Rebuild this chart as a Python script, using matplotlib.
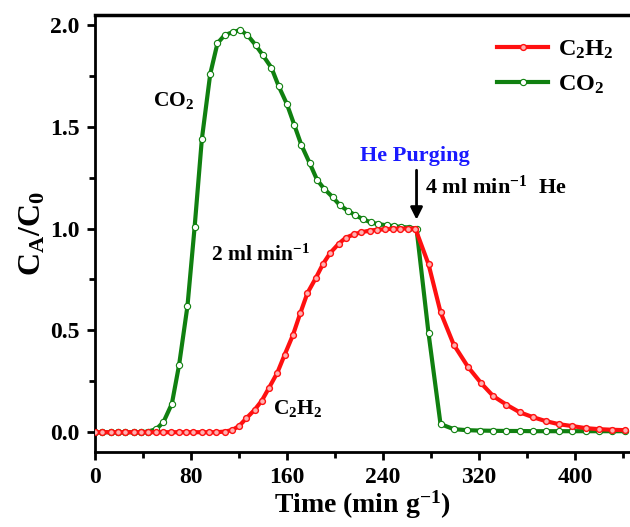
import matplotlib
matplotlib.use('Agg')
import matplotlib.pyplot as plt
from matplotlib.ticker import MultipleLocator

plt.rcParams['font.family'] = 'Liberation Serif'
plt.rcParams['font.weight'] = 'bold'
plt.rcParams['mathtext.fontset'] = 'custom'
plt.rcParams['mathtext.rm'] = 'Liberation Serif:bold'
plt.rcParams['mathtext.bf'] = 'Liberation Serif:bold'
plt.rcParams['mathtext.it'] = 'Liberation Serif:bold:italic'

# C2H2 breakthrough / desorption curve
c2h2_t = [0, 6, 13, 19, 25, 32, 38, 44, 51, 57, 63, 70, 76, 82, 89, 95, 101, 108,
          114, 120, 126, 133, 139, 145, 152, 158, 165, 171, 177, 184, 190, 196,
          203, 209, 216, 222, 229, 235, 242, 248, 254, 261, 267,
          278, 288, 299, 311, 322, 332, 343, 354, 365, 376, 387, 398, 409, 420, 431, 442]
c2h2_c = [0, 0, 0, 0, 0, 0, 0, 0, 0, 0, 0, 0, 0, 0, 0, 0, 0, 0.003,
          0.01, 0.03, 0.068, 0.11, 0.155, 0.218, 0.293, 0.38, 0.478, 0.583, 0.683, 0.757, 0.826, 0.88,
          0.925, 0.955, 0.972, 0.982, 0.99, 0.994, 0.997, 0.999, 1.0, 1.0, 1.0,
          0.825, 0.59, 0.43, 0.32, 0.24, 0.177, 0.135, 0.098, 0.074, 0.054, 0.039, 0.03, 0.02, 0.015, 0.012, 0.01]

# CO2 breakthrough / desorption curve
co2_t = [0, 6, 13, 19, 25, 32, 38, 44, 51, 57, 64, 70, 77, 83, 89, 96, 102, 108,
         115, 121, 127, 134, 140, 147, 153, 160, 166, 172, 179, 185, 191, 198,
         204, 211, 217, 223, 230, 236, 243, 249, 255, 262, 268,
         278, 288, 299, 310, 321, 332, 343, 354, 365, 376, 387, 398, 409, 420, 431, 442]
co2_c = [0, 0, 0, 0, 0, 0, 0, 0.003, 0.015, 0.05, 0.14, 0.33, 0.62, 1.01, 1.44, 1.76, 1.91, 1.95,
         1.965, 1.975, 1.95, 1.90, 1.85, 1.79, 1.70, 1.61, 1.51, 1.41, 1.32, 1.24, 1.195, 1.155,
         1.115, 1.086, 1.066, 1.047, 1.03, 1.022, 1.016, 1.012, 1.008, 1.005, 1.0,
         0.486, 0.04, 0.015, 0.01, 0.008, 0.007, 0.006, 0.006, 0.005, 0.005, 0.005, 0.005, 0.005, 0.005, 0.005, 0.005]

fig = plt.figure(figsize=(6.3, 5.27), dpi=100)
ax = fig.add_axes([0.151, 0.142, 0.849, 0.830])

ax.plot(co2_t, co2_c, color='#108010', lw=3, marker='o', ms=4.5,
        mfc='white', mec='#108010', mew=0.8, label=r'$\mathrm{CO_2}$', zorder=2)
ax.plot(c2h2_t, c2h2_c, color='#ff1010', lw=3, marker='o', ms=4.2,
        mfc='#ffb0b0', mec='#ff1010', mew=1.0, label=r'$\mathrm{C_2H_2}$', zorder=3)

ax.set_xlim(0, 446)
ax.set_ylim(-0.098, 2.05)
ax.xaxis.set_major_locator(MultipleLocator(80))
ax.xaxis.set_minor_locator(MultipleLocator(40))
ax.yaxis.set_minor_locator(MultipleLocator(0.25))
ax.set_yticks([0.0, 0.5, 1.0, 1.5, 2.0])
ax.set_yticklabels(['0.0', '0.5', '1.0', '1.5', '2.0'])

ax.spines['right'].set_visible(False)
for s in ['left', 'bottom']:
    ax.spines[s].set_linewidth(2)
ax.spines['top'].set_linewidth(2.5)
ax.tick_params(which='major', direction='out', length=6, width=2, labelsize=17, pad=5)
ax.tick_params(which='minor', direction='out', length=4, width=2)
ax.tick_params(top=False, right=False, which='both')

ax.set_xlabel(r'Time (min g$^{-1}$)', fontsize=20, fontweight='bold', labelpad=0)
ax.set_ylabel(r'$\mathrm{C_A/C_0}$', fontsize=23, labelpad=2)

ax.text(48, 1.6, r'$\mathrm{CO_2}$', fontsize=15.5)
ax.text(97, 0.84, r'$\mathrm{2\ ml\ min^{-1}}$', fontsize=15.5)
ax.text(148, 0.09, r'$\mathrm{C_2H_2}$', fontsize=15.5)
ax.text(221, 1.33, 'He Purging', fontsize=16, color='#1a1aff', fontweight='bold')
ax.text(275, 1.17, r'$\mathrm{4\ ml\ min^{-1}\ \ He}$', fontsize=16)
ax.annotate('', xy=(268, 1.03), xytext=(268, 1.30),
            arrowprops=dict(arrowstyle='-|>', color='black', lw=2, mutation_scale=18))

h, l = ax.get_legend_handles_labels()
ax.legend(h[::-1], l[::-1], loc='upper right', bbox_to_anchor=(1.01, 0.995), frameon=False,
          fontsize=17.5, numpoints=1, handlelength=2.1, handletextpad=0.4, labelspacing=0.5)

fig.savefig('out.png', dpi=100)
